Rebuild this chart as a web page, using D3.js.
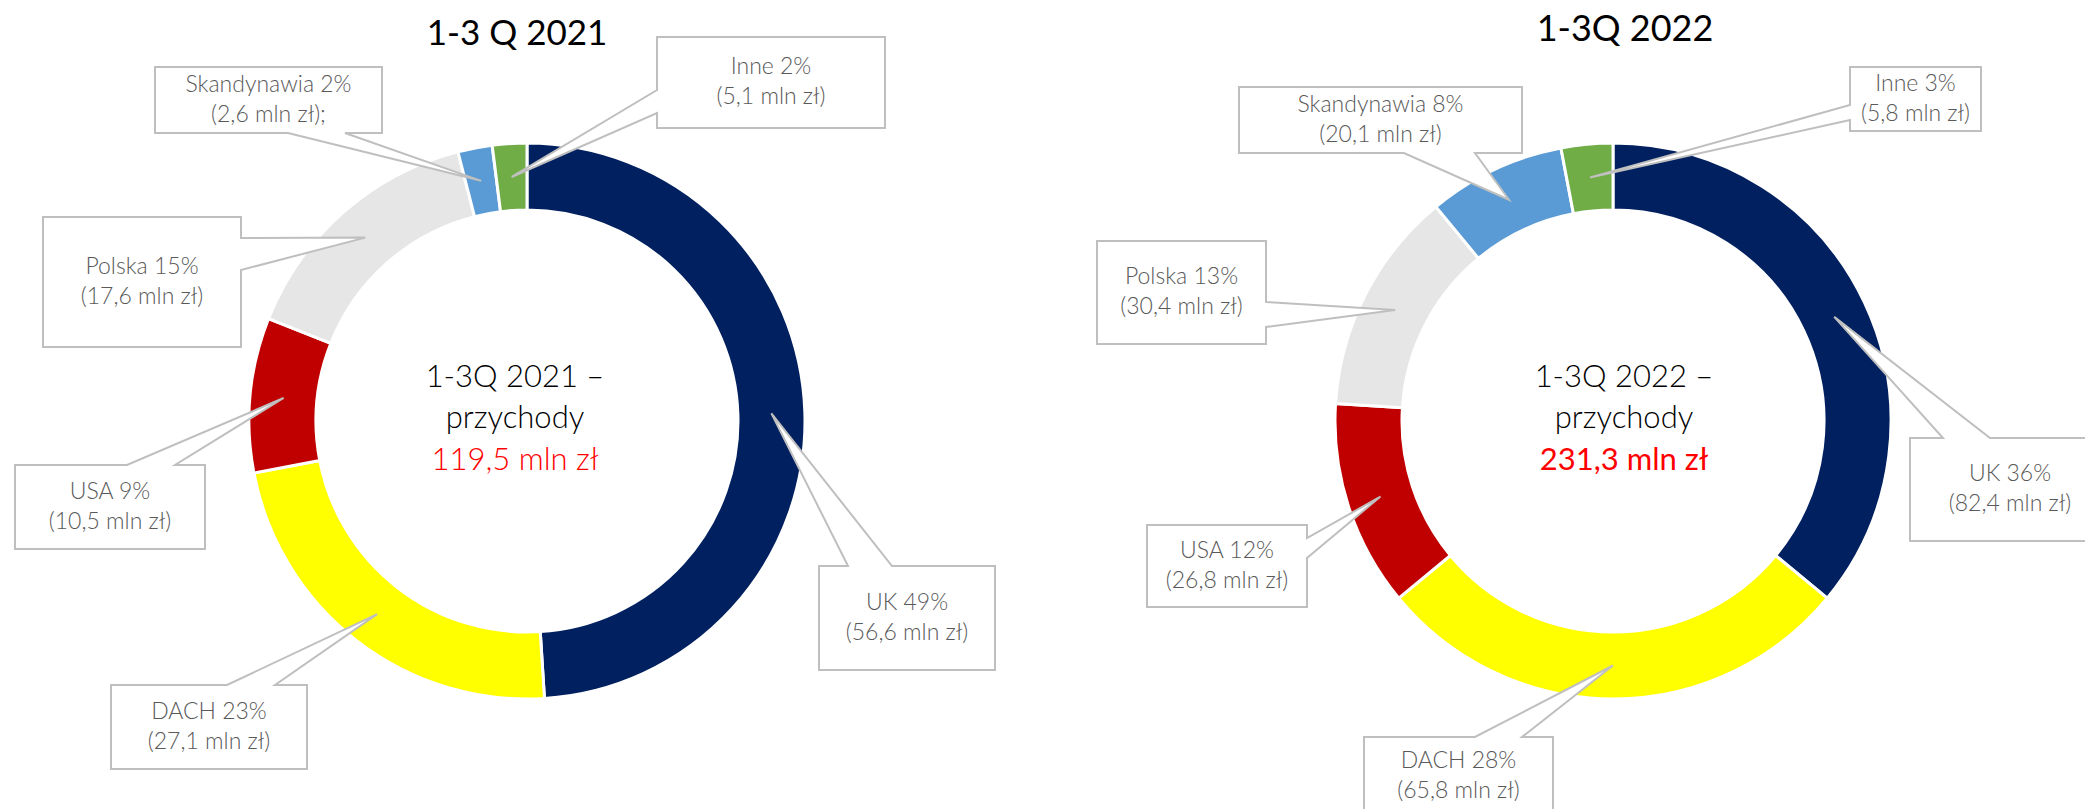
<!DOCTYPE html>
<html>
<head>
<meta charset="utf-8">
<script src="https://cdn.jsdelivr.net/npm/d3@7"></script>
<style>
    html, body { margin: 0; padding: 0; background: #fff; }
    #chart { width: 2085px; height: 809px; }
    text { font-family: Lato, "Open Sans", sans-serif; }
</style>
</head>
<body>
<div id="chart"></div>
<script>
// data
const regions = ["UK", "DACH", "USA", "Polska", "Skandynawia", "Inne"];
const regionColors = ["#002060", "#FFFF00", "#C00000", "#E7E6E6", "#5B9BD5", "#70AD47"];

const pct2021 = [49, 23, 9, 15, 2, 2];
const mln2021 = [56.6, 27.1, 10.5, 17.6, 2.6, 5.1];
const suffix2021 = ["", "", "", "", ";", ""];

const pct2022 = [36, 28, 12, 13, 8, 3];
const mln2022 = [82.4, 65.8, 26.8, 30.4, 20.1, 5.8];
const suffix2022 = ["", "", "", "", "", ""];

const titles = ["1-3 Q 2021", "1-3Q 2022"];
const centerLabels = ["1-3Q 2021 –", "1-3Q 2022 –"];
const totals = [119.5, 231.3];

// layout of the two donuts and their callout boxes (box x0,y0,x1,y1, side of the wedge, wedge base a,b)
const layouts = [
    {
        cx: 527, cy: 421, titleX: 517, titleY: 45, titleSize: 35, textX: 515, totalWeight: 300,
        boxes: [
            {box: [819, 566, 995, 670], side: "top", a: 848, b: 892},
            {box: [111, 685, 307, 769], side: "top", a: 227, b: 275},
            {box: [15, 465, 205, 549], side: "top", a: 127, b: 175},
            {box: [43, 217, 241, 347], side: "right", a: 238, b: 270},
            {box: [155, 67, 382, 133], side: "bottom", a: 288, b: 345},
            {box: [657, 37, 885, 128], side: "left", a: 90, b: 113}
        ]
    },
    {
        cx: 1613, cy: 421, titleX: 1625, titleY: 41, titleSize: 36, textX: 1624, totalWeight: 400,
        boxes: [
            {box: [1910, 438, 2110, 541], side: "top", a: 1943, b: 1990},
            {box: [1364, 737, 1553, 815], side: "top", a: 1475, b: 1522},
            {box: [1147, 525, 1307, 607], side: "right", a: 538, b: 558},
            {box: [1097, 241, 1266, 344], side: "right", a: 302, b: 327},
            {box: [1239, 87, 1522, 153], side: "bottom", a: 1404, b: 1475},
            {box: [1850, 67, 1981, 131], side: "left", a: 105, b: 120}
        ]
    }
];

const series = [
    regions.map((r, i) => ({region: r, pct: pct2021[i], mln: mln2021[i], suffix: suffix2021[i], color: regionColors[i]})),
    regions.map((r, i) => ({region: r, pct: pct2022[i], mln: mln2022[i], suffix: suffix2022[i], color: regionColors[i]}))
];

const fmt = v => d3.format(".1f")(v).replace(".", ",");

const width = 2085, height = 809;
const outerR = 278, innerR = 211;

const svg = d3.select("#chart").append("svg")
    .attr("width", width)
    .attr("height", height);

const pie = d3.pie().sort(null).value(d => d.pct);
const arc = d3.arc().innerRadius(innerR).outerRadius(outerR);

// callout outline with a wedge pointing at the slice
function calloutPath(b, tip) {
    let [x0, y0, x1, y1] = b.box;
    let pts;
    if (b.side === "top") {
        pts = [[x0, y0], [b.a, y0], tip, [b.b, y0], [x1, y0], [x1, y1], [x0, y1]];
    } else if (b.side === "bottom") {
        pts = [[x0, y0], [x1, y0], [x1, y1], [b.b, y1], tip, [b.a, y1], [x0, y1]];
    } else if (b.side === "left") {
        pts = [[x0, y0], [x1, y0], [x1, y1], [x0, y1], [x0, b.b], tip, [x0, b.a]];
    } else {
        pts = [[x0, y0], [x1, y0], [x1, b.a], tip, [x1, b.b], [x1, y1], [x0, y1]];
    }
    return "M" + pts.map(p => p.join(",")).join("L") + "Z";
}

series.forEach((data, k) => {
    let lay = layouts[k];
    let arcs = pie(data);

    // title
    svg.append("text")
        .attr("x", lay.titleX)
        .attr("y", lay.titleY)
        .attr("text-anchor", "middle")
        .attr("font-size", lay.titleSize + "px")
        .attr("fill", "#000")
        .text(titles[k]);

    let g = svg.append("g")
        .attr("transform", `translate(${lay.cx}, ${lay.cy})`);

    g.selectAll("path.slice")
        .data(arcs)
        .enter().append("path")
        .attr("class", "slice")
        .attr("d", arc)
        .attr("fill", d => d.data.color)
        .attr("stroke", "#fff")
        .attr("stroke-width", 3);

    // centre text
    let ct = svg.append("g");
    ct.append("text")
        .attr("x", lay.textX).attr("y", 387)
        .attr("text-anchor", "middle")
        .attr("font-size", "31px").attr("font-weight", 300)
        .attr("fill", "#000")
        .text(centerLabels[k]);
    ct.append("text")
        .attr("x", lay.textX).attr("y", 428)
        .attr("text-anchor", "middle")
        .attr("font-size", "31px").attr("font-weight", 300)
        .attr("fill", "#000")
        .text("przychody");
    ct.append("text")
        .attr("x", lay.textX).attr("y", 470)
        .attr("text-anchor", "middle")
        .attr("font-size", "31px").attr("font-weight", lay.totalWeight)
        .attr("fill", "#FF0000")
        .text(fmt(totals[k]) + " mln zł");

    // callouts
    arcs.forEach((d, i) => {
        let b = lay.boxes[i];
        let c = arc.centroid(d);
        let tip = [lay.cx + c[0], lay.cy + c[1]];

        svg.append("path")
            .attr("d", calloutPath(b, tip))
            .attr("fill", "#fff")
            .attr("stroke", "#BFBFBF")
            .attr("stroke-width", 2);

        let mx = (b.box[0] + b.box[2]) / 2;
        let my = (b.box[1] + b.box[3]) / 2;
        svg.append("text")
            .attr("x", mx).attr("y", my - 8.5)
            .attr("text-anchor", "middle")
            .attr("font-size", "23px").attr("font-weight", 300)
            .attr("fill", "#595959")
            .text(`${d.data.region} ${d.data.pct}%`);
        svg.append("text")
            .attr("x", mx).attr("y", my + 21.5)
            .attr("text-anchor", "middle")
            .attr("font-size", "23px").attr("font-weight", 300)
            .attr("fill", "#595959")
            .text(`(${fmt(d.data.mln)} mln zł)${d.data.suffix}`);
    });
});
</script>
</body>
</html>
